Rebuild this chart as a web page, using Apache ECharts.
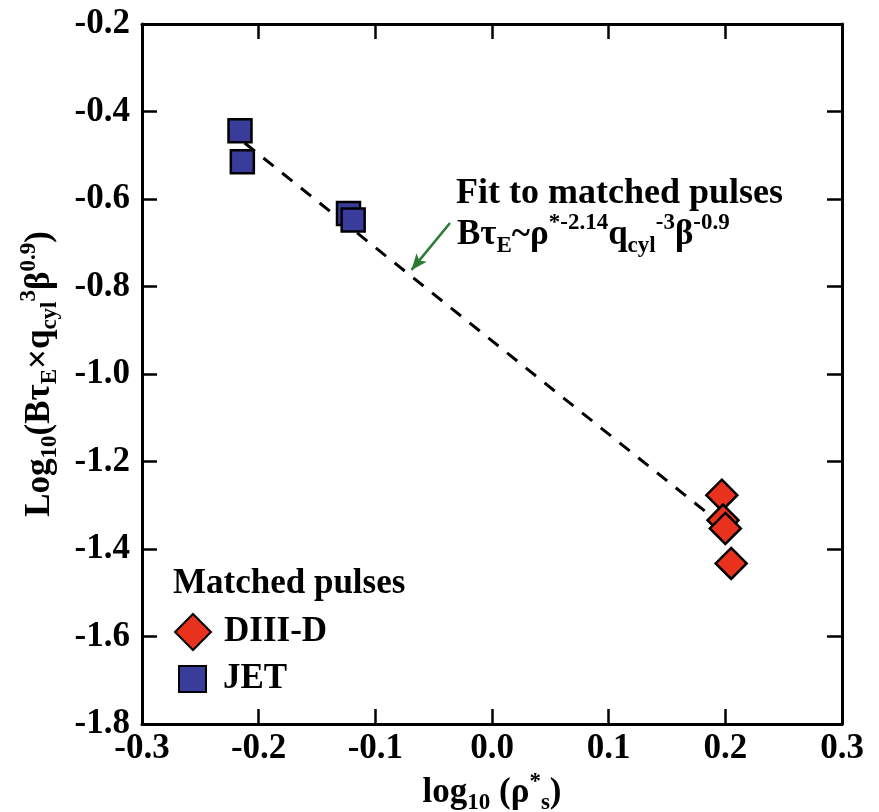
<!DOCTYPE html>
<html>
<head>
<meta charset="utf-8">
<script src="https://cdn.jsdelivr.net/npm/echarts@6/dist/echarts.min.js"></script>
<style>
    html, body { margin: 0; padding: 0; background: #fff; }
    #chart { width: 879px; height: 812px; }
</style>
</head>
<body>
<div id="chart"></div>
<script>
// data
const jetX = [-0.216, -0.214, -0.123, -0.119]
const jetY = [-0.444, -0.515, -0.633, -0.648]
const d3dX = [0.197, 0.198, 0.200, 0.205]
const d3dY = [-1.277, -1.334, -1.353, -1.433]
const fitX = [-0.212, 0.195]
const fitY = [-0.472, -1.34]
const arrowX = [-0.036, -0.069]
const arrowY = [-0.655, -0.762]

const FONT = '"Liberation Serif", "Times New Roman", serif'
const RED = '#e8321e'
const BLUE = '#3a3c9c'

function pairs(xs, ys) {
    return xs.map((x, i) => [x, ys[i]])
}

// 上下标用的富文本样式
function richStyles(big, small, lh, colorKey) {
    const c = {}
    c[colorKey] = '#000'
    return {
        t: { fontFamily: FONT, fontWeight: 'bold', fontSize: big, lineHeight: lh, ...c },
        s: { fontFamily: FONT, fontWeight: 'bold', fontSize: small, lineHeight: small, verticalAlign: 'bottom', ...c },
        u: { fontFamily: FONT, fontWeight: 'bold', fontSize: small, lineHeight: small, verticalAlign: 'top', ...c },
    }
}

const chart = echarts.init(document.getElementById('chart'))

// 坐标轴公共配置
const axisCommon = {
    axisLine: { onZero: false, lineStyle: { color: '#000', width: 3 } },
    axisTick: { inside: true, length: 15, lineStyle: { color: '#000', width: 2.5 } },
    splitLine: { show: false },
}

const legendText = { color: '#000', fontFamily: FONT, fontWeight: 'bold', fontSize: 35, lineHeight: 36 }

const option = {
    backgroundColor: '#fff',
    animation: false,
    grid: { left: 142, right: 37, top: 24, bottom: 88, outerBoundsMode: 'none' },
    xAxis: [
        {
            type: 'value', min: -0.3, max: 0.3, interval: 0.1,
            ...axisCommon,
            axisLabel: {
                color: '#000', fontFamily: FONT, fontWeight: 'bold', fontSize: 35, margin: 7,
                formatter: v => v.toFixed(1),
            },
            name: '{t|log}{s|10}{t| (ρ}{u|*}{s|s}{t|)}',
            nameLocation: 'middle',
            nameGap: 44,
            nameTextStyle: { rich: richStyles(35, 23, 44, 'color') },
        },
        {
            type: 'value', min: -0.3, max: 0.3, interval: 0.1, position: 'top',
            ...axisCommon,
            axisLabel: { show: false },
        },
    ],
    yAxis: [
        {
            type: 'value', min: -1.8, max: -0.2, interval: 0.2,
            ...axisCommon,
            axisLabel: {
                color: '#000', fontFamily: FONT, fontWeight: 'bold', fontSize: 35, margin: 12,
                formatter: v => v.toFixed(1),
            },
            name: '{t|Log}{s|10}{t|(Bτ}{s|E}{t|×q}{s|cyl}{u|3}{t|β}{u|0.9}{t|)}',
            nameLocation: 'middle',
            nameRotate: 90,
            nameGap: 80,
            nameTextStyle: { rich: richStyles(35, 23, 44, 'color') },
        },
        {
            type: 'value', min: -1.8, max: -0.2, interval: 0.2, position: 'right',
            ...axisCommon,
            axisLabel: { show: false },
        },
    ],
    legend: [
        {
            left: 169, top: 608,
            itemWidth: 36, itemHeight: 36,
            data: ['DIII-D'],
            textStyle: { ...legendText, padding: [0, 0, 0, 8] },
        },
        {
            left: 173, top: 656,
            itemWidth: 27, itemHeight: 26,
            data: ['JET'],
            textStyle: { ...legendText, padding: [0, 0, 0, 12] },
        },
    ],
    graphic: [
        {
            type: 'text', left: 173, top: 566,
            style: { text: 'Matched pulses', fill: '#000', font: 'bold 35px ' + FONT },
        },
        {
            type: 'text', left: 456, top: 176,
            style: { text: 'Fit to matched pulses', fill: '#000', font: 'bold 36px ' + FONT },
        },
        {
            type: 'text', left: 457, top: 212,
            style: {
                text: '{t|Bτ}{s|E}{t|~ρ}{u|*-2.14}{t|q}{s|cyl}{u|-3}{t|β}{u|-0.9}',
                rich: richStyles(35, 23, 46, 'fill'),
            },
        },
    ],
    series: [
        {
            name: 'fit',
            type: 'line',
            data: pairs(fitX, fitY),
            showSymbol: false,
            symbol: 'none',
            z: 1,
            lineStyle: { color: '#000', width: 3, type: [13, 11] },
            markLine: {
                silent: true,
                symbol: ['none', 'arrow'],
                symbolSize: [10, 16],
                label: { show: false },
                lineStyle: { color: '#2b7a34', width: 2.5, type: 'solid' },
                data: [[
                    { coord: [arrowX[0], arrowY[0]] },
                    { coord: [arrowX[1], arrowY[1]] },
                ]],
            },
        },
        {
            name: 'JET',
            type: 'scatter',
            data: pairs(jetX, jetY),
            symbol: 'rect',
            symbolSize: 23,
            z: 3,
            itemStyle: { color: BLUE, borderColor: '#000', borderWidth: 2.5, opacity: 1 },
        },
        {
            name: 'DIII-D',
            type: 'scatter',
            data: pairs(d3dX, d3dY),
            symbol: 'diamond',
            symbolSize: 31,
            z: 3,
            itemStyle: { color: RED, borderColor: '#000', borderWidth: 2.5, opacity: 1 },
        },
    ],
}

chart.setOption(option)
</script>
</body>
</html>
